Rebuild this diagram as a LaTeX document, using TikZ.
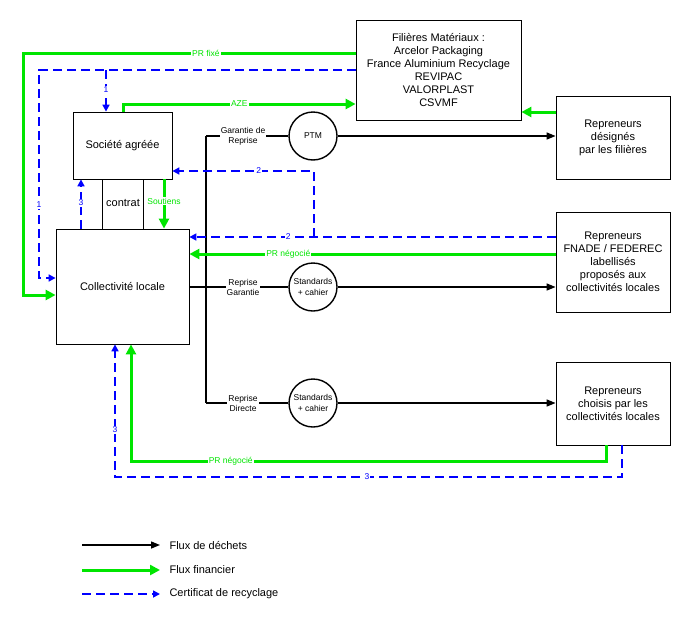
\documentclass[tikz,border=0pt]{standalone}
\usepackage{fontspec}
\setmainfont{Liberation Sans}
\usetikzlibrary{arrows.meta}
\begin{document}
\begin{tikzpicture}[x=1pt,y=-1pt,
  box/.style={draw,line width=0.8pt,align=center,font=\fontsize{11}{13}\selectfont,inner sep=0pt},
  circ/.style={draw,circle,line width=1.4pt,minimum size=48pt,inner sep=0pt,align=center,font=\fontsize{8.5}{10.5}\selectfont},
  waste/.style={line width=1.4pt,-{Triangle[length=9pt,width=7pt]}},
  wline/.style={line width=1.4pt},
  fin/.style={line width=3pt,green!90!black,-{Triangle[length=10pt,width=10pt]}},
  finc/.style={line width=3pt,green!90!black},
  cert/.style={line width=1.6pt,blue,dash pattern=on 9pt off 5pt,-{Triangle[length=7pt,width=7pt]}},
  lab/.style={fill=white,inner sep=1pt,font=\fontsize{8.5}{10}\selectfont},
  glab/.style={fill=white,inner sep=1pt,font=\fontsize{8.5}{10}\selectfont,text=green!90!black},
  smlab/.style={fill=white,inner sep=1pt,align=center,font=\fontsize{8.5}{10}\selectfont}]
\useasboundingbox (0,0) rectangle (693,616);
% boxes
\node[box,minimum width=165pt,minimum height=100pt] (fil) at (438.5,70) {Filières Matériaux :\\Arcelor Packaging\\France Aluminium Recyclage\\REVIPAC\\VALORPLAST\\CSVMF};
\node[box,minimum width=99pt,minimum height=67pt] (soc) at (122.5,145.5) {Société agréée};
\node[box,minimum width=133pt,minimum height=115pt] (col) at (122.5,286.5) {Collectivité locale};
\node[box,minimum width=114pt,minimum height=83pt] (rd) at (613,137.5) {Repreneurs\\désignés\\par les filières};
\node[box,minimum width=114pt,minimum height=100pt] (rf) at (613,262) {Repreneurs\\FNADE / FEDEREC\\labellisés\\proposés aux\\collectivités locales};
\node[box,minimum width=114pt,minimum height=83pt] (rc) at (613,403.5) {Repreneurs\\choisis par les\\collectivités locales};
% circles
\node[circ] (c1) at (313,136) {PTM};
\node[circ] (c2) at (313,287) {Standards\\+ cahier};
\node[circ] (c3) at (313,403) {Standards\\+ cahier};
% coordinates
\coordinate (j1) at (206,136);
\coordinate (j2) at (206,287);
\coordinate (j3) at (206,403);
% waste flows
\draw[wline] (j1) -- (j3);
\draw[wline] (col.east |- j2) -- (j2);
\draw[wline] (j1) -- (c1.west) node[smlab,pos=0.45] {Garantie de\\Reprise};
\draw[wline] (j2) -- (c2.west) node[smlab,pos=0.45] {Reprise\\Garantie};
\draw[wline] (j3) -- (c3.west) node[smlab,pos=0.45] {Reprise\\Directe};
\draw[waste] (c1.east) -- (rd.west |- c1.east);
\draw[waste] (c2.east) -- (rf.west |- c2.east);
\draw[waste] (c3.east) -- (rc.west |- c3.east);
% contrat
\draw[line width=0.8pt] (102,179) -- (102,229) (143,179) -- (143,229);
\node[font=\fontsize{11}{13}\selectfont] (ct) at (123,203) {contrat};
% financial
\draw[fin] (fil.west |- 0,53) -- (23,53) node[glab,pos=0.45] {PR fixé} -- (23,295) -- (col.west |- 0,295);
\draw[fin] (soc.north -| 123,0) -- (123,104) -- (fil.west |- 0,104) node[glab,pos=0.5] {AZE};
\draw[fin] (rd.west |- 0,112) -- (fil.east |- 0,112);
\draw[fin] (164,179) -- (col.north -| 164,0) node[glab,pos=0.45] {Soutiens};
\draw[fin] (rf.west |- 0,254) -- (col.east |- 0,254) node[glab,pos=0.73] {PR négocié};
\draw[fin] (rc.south -| 606,0) -- (606,461) -- (131,461) node[glab,pos=0.79] {PR négocié} -- (col.south -| 131,0);
% certificates
\draw[cert] (fil.west |- 0,70) -- (39,70) -- (39,205) node[lab] {1} -- (39,278) -- (col.west |- 0,278);
\draw[cert] (106,70) -- (106,90) node[lab] {1} -- (soc.north -| 106,0);
\draw[cert] (rf.west |- 0,237) -- (col.east |- 0,237) node[lab,pos=0.73] {2};
\draw[cert] (314,237) -- (314,171) -- (soc.east |- 0,171) node[lab,pos=0.39] {2};
\draw[cert] (col.north -| 81,0) -- (81,203) node[lab] {3} -- (soc.south -| 81,0);
\draw[cert] (rc.south -| 622,0) -- (622,477) -- (367,477) node[lab] {3} -- (115,477) -- (115,430) node[lab] {3} -- (col.south -| 115,0);
% legend
\coordinate (l1) at (82,545); \coordinate (l1e) at (160,545);
\coordinate (l2) at (82,570); \coordinate (l2e) at (160,570);
\coordinate (l3) at (82,594); \coordinate (l3e) at (160,594);
\draw[waste] (l1) -- (l1e);
\draw[fin] (l2) -- (l2e);
\draw[cert] (l3) -- (l3e);
\node[anchor=west,font=\fontsize{11}{13}\selectfont] (t1) at (166,545) {Flux de déchets};
\node[anchor=west,font=\fontsize{11}{13}\selectfont] (t2) at (166,570) {Flux financier};
\node[anchor=west,font=\fontsize{11}{13}\selectfont] (t3) at (166,594) {Certificat de recyclage};
\end{tikzpicture}
\end{document}
